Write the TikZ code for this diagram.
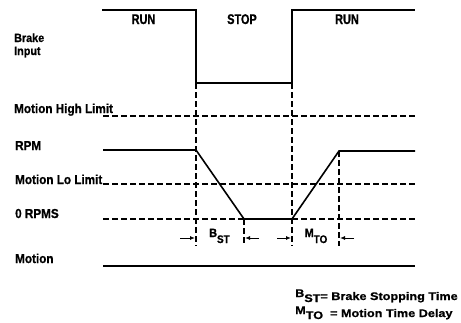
\documentclass[tikz,border=0pt]{standalone}
\usepackage{fontspec}
\newfontfamily\lblfont{Liberation Sans Bold}[FakeStretch=0.9, FakeBold=0.8]
\newfontfamily\ttlfont{Liberation Sans Bold}[FakeStretch=0.78, FakeBold=0.8]
\newfontfamily\legfont{Liberation Sans Bold}[FakeStretch=1.15, FakeBold=0.8]
\usetikzlibrary{arrows.meta}
\newcommand{\lowsub}[2]{#1\raisebox{-6pt}{\fontsize{11}{11}\selectfont #2}}
\newcommand{\legsub}[2]{\raisebox{3pt}{#1}\raisebox{-2pt}{\fontsize{11}{11}\selectfont #2}}
\begin{document}
\begin{tikzpicture}[x=1pt,y=-1pt,
  sig/.style={line width=1.6pt},
  lim/.style={line width=1.4pt, dash pattern=on 6pt off 3pt},
  vdash/.style={line width=1.3pt, dash pattern=on 6pt off 3pt},
  lbl/.style={font=\lblfont\fontsize{13}{14}\selectfont, anchor=base west, inner sep=0pt},
  small/.style={font=\lblfont\fontsize{12}{13}\selectfont, anchor=base west, inner sep=0pt},
  ttl/.style={font=\ttlfont\fontsize{14}{15}\selectfont, anchor=base, inner sep=0pt},
  sublbl/.style={font=\lblfont\fontsize{12}{13}\selectfont, anchor=base, inner sep=0pt},
  leg/.style={font=\legfont\fontsize{11}{12}\selectfont, anchor=base west, inner sep=0pt},
  dimarrow/.style={-{Latex[length=5pt,width=4pt]}, line width=0.9pt}]
\useasboundingbox (0,0) rectangle (461,322);
% brake input signal
\coordinate (b0) at (102,10);
\coordinate (b1) at (196,10);
\coordinate (b2) at (196,83);
\coordinate (b3) at (292,83);
\coordinate (b4) at (292,10);
\coordinate (b5) at (415,10);
\draw[sig] (b0) -- (b1) -- (b2) -- (b3) -- (b4) -- (b5);
% rpm
\coordinate (r0) at (103,150);
\coordinate (r1) at (196,150);
\coordinate (r2) at (244,219);
\coordinate (r3) at (292,219);
\coordinate (r4) at (339,151);
\coordinate (r5) at (415,151);
\draw[sig] (r0) -- (r1) -- (r2) -- (r3) -- (r4) -- (r5);
% limits
\coordinate (h0) at (103,116); \coordinate (h1) at (415,116);
\coordinate (l0) at (103,184); \coordinate (l1) at (415,184);
\coordinate (z0) at (103,219); \coordinate (z1) at (415,219);
\draw[lim] (h0) -- (h1);
\draw[lim] (l0) -- (l1);
\draw[lim] (z0) -- (z1);
% motion
\coordinate (m0) at (103,266); \coordinate (m1) at (415,266);
\draw[sig] (m0) -- (m1);
% vertical markers
\coordinate (v1) at (196,246);
\coordinate (v2) at (244,246);
\coordinate (v3) at (292,246);
\coordinate (v4) at (339,246);
\draw[vdash] (b2) -- (v1);
\draw[vdash] (r2) -- (v2);
\draw[vdash] (b3) -- (v3);
\draw[vdash] (r4) -- (v4);
% dimension arrows
\coordinate (a1s) at (180,238); \coordinate (a1e) at (195,238);
\coordinate (a2s) at (259,238); \coordinate (a2e) at (245,238);
\coordinate (a3s) at (277,238); \coordinate (a3e) at (291,238);
\coordinate (a4s) at (354,238); \coordinate (a4e) at (340,238);
\draw[dimarrow] (a1s) -- (a1e);
\draw[dimarrow] (a2s) -- (a2e);
\draw[dimarrow] (a3s) -- (a3e);
\draw[dimarrow] (a4s) -- (a4e);
\node[sublbl] (bst) at (219.5,237) {\lowsub{B}{ST}};
\node[sublbl] (mto) at (316,237) {\lowsub{M}{TO}};
% state titles
\node[ttl] (run1) at (143.5,24) {RUN};
\node[ttl] (stop) at (242,24) {STOP};
\node[ttl] (run2) at (347,24) {RUN};
% left labels
\node[small] (brk) at (14,42) {Brake};
\node[small] (inp) at (14,55) {Input};
\node[lbl] (mhl) at (14,113) {Motion High Limit};
\node[lbl] (rpm) at (15,150) {RPM};
\node[lbl] (mll) at (15,184) {Motion Lo Limit};
\node[lbl] (zr) at (15,218) {0 RPMS};
\node[lbl] (mot) at (15,263) {Motion};
% legend
\node[leg] (leg1) at (295,300) {\legsub{B}{ST}= Brake Stopping Time};
\node[leg] (leg2) at (295,317) {\legsub{M}{TO}\ \ = Motion Time Delay};
\end{tikzpicture}
\end{document}
